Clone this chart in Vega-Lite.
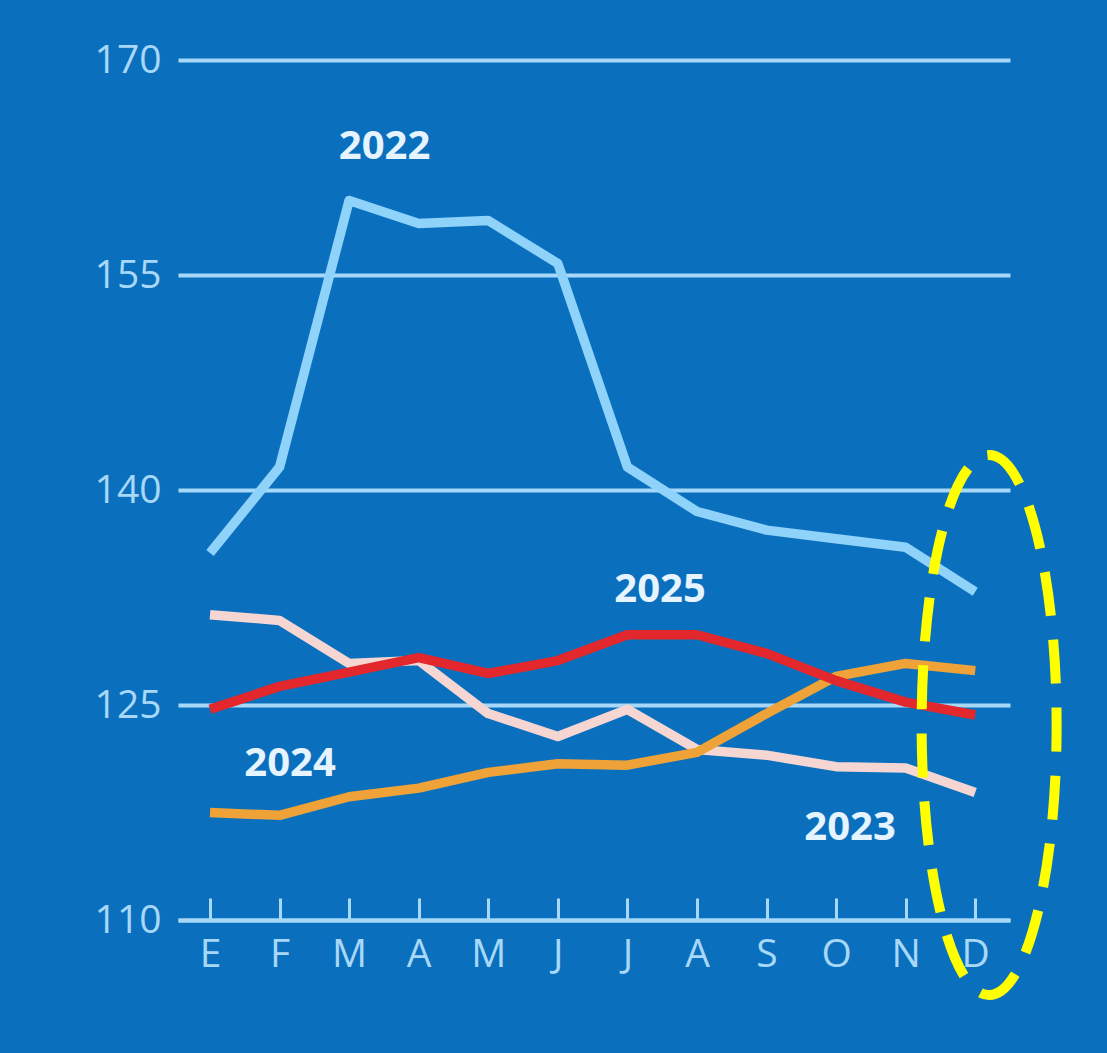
{
  "$schema": "https://vega.github.io/schema/vega-lite/v6.json",
  "width": 832,
  "height": 860,
  "autosize": {"type": "none"},
  "padding": {"left": 178, "top": 60, "right": 97, "bottom": 133},
  "background": "#0a70bd",
  "config": {
    "view": {"stroke": null},
    "font": "Open Sans"
  },
  "datasets": {
    "series": [
      {"year": "2022", "month": 1, "value": 135.6},
      {"year": "2022", "month": 2, "value": 141.6},
      {"year": "2022", "month": 3, "value": 160.2},
      {"year": "2022", "month": 4, "value": 158.6},
      {"year": "2022", "month": 5, "value": 158.8},
      {"year": "2022", "month": 6, "value": 155.8},
      {"year": "2022", "month": 7, "value": 141.6},
      {"year": "2022", "month": 8, "value": 138.5},
      {"year": "2022", "month": 9, "value": 137.2},
      {"year": "2022", "month": 10, "value": 136.6},
      {"year": "2022", "month": 11, "value": 136.0},
      {"year": "2022", "month": 12, "value": 132.9},
      {"year": "2023", "month": 1, "value": 131.3},
      {"year": "2023", "month": 2, "value": 130.9},
      {"year": "2023", "month": 3, "value": 127.9},
      {"year": "2023", "month": 4, "value": 128.1},
      {"year": "2023", "month": 5, "value": 124.4},
      {"year": "2023", "month": 6, "value": 122.8},
      {"year": "2023", "month": 7, "value": 124.7},
      {"year": "2023", "month": 8, "value": 121.9},
      {"year": "2023", "month": 9, "value": 121.5},
      {"year": "2023", "month": 10, "value": 120.7},
      {"year": "2023", "month": 11, "value": 120.6},
      {"year": "2023", "month": 12, "value": 118.9},
      {"year": "2024", "month": 1, "value": 117.5},
      {"year": "2024", "month": 2, "value": 117.3},
      {"year": "2024", "month": 3, "value": 118.6},
      {"year": "2024", "month": 4, "value": 119.2},
      {"year": "2024", "month": 5, "value": 120.3},
      {"year": "2024", "month": 6, "value": 120.9},
      {"year": "2024", "month": 7, "value": 120.8},
      {"year": "2024", "month": 8, "value": 121.7},
      {"year": "2024", "month": 9, "value": 124.4},
      {"year": "2024", "month": 10, "value": 127.0},
      {"year": "2024", "month": 11, "value": 127.9},
      {"year": "2024", "month": 12, "value": 127.4},
      {"year": "2025", "month": 1, "value": 124.7},
      {"year": "2025", "month": 2, "value": 126.3},
      {"year": "2025", "month": 3, "value": 127.3},
      {"year": "2025", "month": 4, "value": 128.3},
      {"year": "2025", "month": 5, "value": 127.2},
      {"year": "2025", "month": 6, "value": 128.1},
      {"year": "2025", "month": 7, "value": 129.9},
      {"year": "2025", "month": 8, "value": 129.9},
      {"year": "2025", "month": 9, "value": 128.6},
      {"year": "2025", "month": 10, "value": 126.7},
      {"year": "2025", "month": 11, "value": 125.2},
      {"year": "2025", "month": 12, "value": 124.3}
    ],
    "labels": [
      {"label": "2022", "month": 3.51, "value": 163.9},
      {"label": "2025", "month": 7.47, "value": 133.0},
      {"label": "2024", "month": 2.15, "value": 120.9},
      {"label": "2023", "month": 10.2, "value": 116.4}
    ]
  },
  "layer": [
    {
      "data": {"name": "series"},
      "mark": {"type": "line", "strokeWidth": 9.5, "strokeJoin": "round", "strokeCap": "butt"},
      "encoding": {
        "x": {
          "field": "month",
          "type": "quantitative",
          "scale": {"domain": [0.54, 12.5], "nice": false, "zero": false},
          "axis": {
            "title": null,
            "values": [1, 2, 3, 4, 5, 6, 7, 8, 9, 10, 11, 12],
            "labelExpr": "['E','F','M','A','M','J','J','A','S','O','N','D'][datum.value - 1]",
            "grid": false,
            "domainColor": "#a8d8f8",
            "domainWidth": 4,
            "tickColor": "#a8d8f8",
            "tickWidth": 3,
            "tickSize": -22,
            "labelColor": "#a8d8f8",
            "labelFontSize": 39,
            "labelPadding": 37,
            "labelFlush": false,
            "labelOverlap": false
          }
        },
        "y": {
          "field": "value",
          "type": "quantitative",
          "scale": {"domain": [110, 170], "nice": false, "zero": false},
          "axis": {
            "title": null,
            "values": [110, 125, 140, 155, 170],
            "grid": true,
            "gridColor": "#a8d8f8",
            "gridWidth": 4,
            "domain": false,
            "ticks": false,
            "labelColor": "#a8d8f8",
            "labelFontSize": 39,
            "labelPadding": 17
          }
        },
        "color": {
          "field": "year",
          "type": "nominal",
          "scale": {
            "domain": ["2022", "2023", "2024", "2025"],
            "range": ["#8fd3fb", "#f6d6d2", "#eea237", "#e2272d"]
          },
          "legend": null
        }
      }
    },
    {
      "data": {"name": "labels"},
      "mark": {"type": "text", "fontSize": 40, "fontWeight": "bold", "color": "#e6f4ff", "align": "center", "baseline": "middle"},
      "encoding": {
        "x": {"field": "month", "type": "quantitative"},
        "y": {"field": "value", "type": "quantitative"},
        "text": {"field": "label"}
      }
    },
    {
      "data": {"values": [{}]},
      "mark": {
        "type": "point",
        "shape": "M0,-1 A0.25,1 0 1,1 0,1 A0.25,1 0 1,1 0,-1 Z",
        "filled": false,
        "stroke": "#ffff00",
        "strokeWidth": 10,
        "strokeDash": [44, 24],
        "opacity": 1,
        "size": 291600
      },
      "encoding": {
        "x": {"datum": 12.2},
        "y": {"datum": 123.6}
      }
    }
  ]
}
